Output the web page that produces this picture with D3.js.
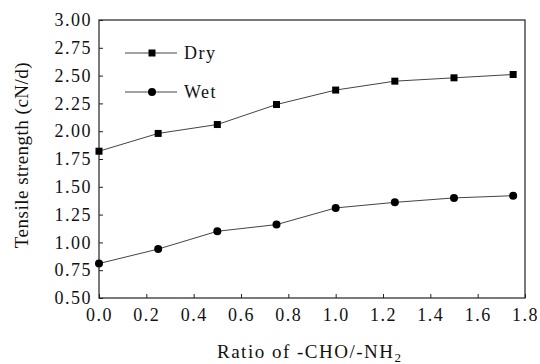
<!DOCTYPE html>
<html>
<head>
<meta charset="utf-8">
<script src="https://cdn.jsdelivr.net/npm/d3@7"></script>
<style>
  body { margin: 0; background: #fff; }
  svg { display: block; }
</style>
</head>
<body>
<div id="chart"></div>
<script>
// data
const ratios = [0, 0.25, 0.5, 0.75, 1.0, 1.25, 1.5, 1.75];
const dryValues = [1.82, 1.98, 2.06, 2.24, 2.37, 2.45, 2.48, 2.51];
const wetValues = [0.81, 0.94, 1.10, 1.16, 1.31, 1.36, 1.40, 1.42];
const xTicks = [0, 0.2, 0.4, 0.6, 0.8, 1.0, 1.2, 1.4, 1.6, 1.8];
const yTicks = [0.5, 0.75, 1.0, 1.25, 1.5, 1.75, 2.0, 2.25, 2.5, 2.75, 3.0];

const FONT = '"Liberation Serif", "Times New Roman", serif';
const width = 540, height = 364;
const margin = { top: 20, right: 15, bottom: 66, left: 99 };

const svg = d3.select('#chart').append('svg')
  .attr('width', width)
  .attr('height', height);

const x = d3.scaleLinear()
  .domain([0, 1.8])
  .range([margin.left, width - margin.right]);

const y = d3.scaleLinear()
  .domain([0.5, 3.0])
  .range([height - margin.bottom, margin.top]);

// frame
svg.append('rect')
  .attr('x', x(0))
  .attr('y', y(3))
  .attr('width', x(1.8) - x(0))
  .attr('height', y(0.5) - y(3))
  .attr('fill', 'none')
  .attr('stroke', '#222')
  .attr('stroke-width', 1.2);

const xAxis = d3.axisBottom(x)
  .tickValues(xTicks)
  .tickSize(-4)
  .tickPadding(10)
  .tickFormat(d3.format('.1f'));

const yAxis = d3.axisLeft(y)
  .tickValues(yTicks)
  .tickSize(-4)
  .tickPadding(7)
  .tickFormat(d3.format('.2f'));

const gx = svg.append('g')
  .attr('transform', `translate(0, ${y(0.5)})`)
  .call(xAxis);

const gy = svg.append('g')
  .attr('transform', `translate(${x(0)}, 0)`)
  .call(yAxis);

[gx, gy].forEach(g => {
  g.select('.domain').remove();
  g.selectAll('.tick line').attr('stroke', '#222');
  g.selectAll('.tick text')
    .style('font-family', FONT)
    .style('font-size', '18px')
    .style('letter-spacing', '1.5px')
    .attr('fill', '#111');
});
gx.selectAll('.tick text').attr('dy', '0.71em');

const line = d3.line()
  .x(d => x(d[0]))
  .y(d => y(d[1]));

const drySeries = ratios.map((r, i) => [r, dryValues[i]]);
const wetSeries = ratios.map((r, i) => [r, wetValues[i]]);

[drySeries, wetSeries].forEach(s => {
  svg.append('path')
    .datum(s)
    .attr('fill', 'none')
    .attr('stroke', '#444')
    .attr('stroke-width', 1)
    .attr('d', line);
});

svg.selectAll('rect.dry')
  .data(drySeries)
  .enter()
  .append('rect')
  .attr('class', 'dry')
  .attr('x', d => x(d[0]) - 3.5)
  .attr('y', d => y(d[1]) - 3.5)
  .attr('width', 7)
  .attr('height', 7)
  .attr('fill', '#000');

svg.selectAll('circle.wet')
  .data(wetSeries)
  .enter()
  .append('circle')
  .attr('class', 'wet')
  .attr('cx', d => x(d[0]))
  .attr('cy', d => y(d[1]))
  .attr('r', 4)
  .attr('fill', '#000');

// legend
const legend = [
  { name: 'Dry', shape: 'square', yPos: 53 },
  { name: 'Wet', shape: 'circle', yPos: 92 }
];
legend.forEach(l => {
  svg.append('line')
    .attr('x1', 125).attr('x2', 177)
    .attr('y1', l.yPos).attr('y2', l.yPos)
    .attr('stroke', '#444')
    .attr('stroke-width', 1);
  if (l.shape === 'square') {
    svg.append('rect')
      .attr('x', 152 - 3.5).attr('y', l.yPos - 3.5)
      .attr('width', 7).attr('height', 7)
      .attr('fill', '#000');
  } else {
    svg.append('circle')
      .attr('cx', 152).attr('cy', l.yPos).attr('r', 4)
      .attr('fill', '#000');
  }
  svg.append('text')
    .attr('x', 184)
    .attr('y', l.yPos + 6)
    .attr('fill', '#111')
    .style('font-family', FONT)
    .style('font-size', '18px')
    .style('letter-spacing', '1.5px')
    .text(l.name);
});

// axis titles
svg.append('text')
  .attr('transform', 'translate(28, 155) rotate(-90)')
  .attr('text-anchor', 'middle')
  .attr('fill', '#111')
  .style('font-family', FONT)
  .style('font-size', '19px')
  .style('letter-spacing', '0.5px')
  .text('Tensile strength (cN/d)');

const xt = svg.append('text')
  .attr('x', 217)
  .attr('y', 358)
  .attr('fill', '#111')
  .style('font-family', FONT)
  .style('font-size', '19px')
  .style('letter-spacing', '1.5px');
xt.append('tspan').text('Ratio of -CHO/-NH');
xt.append('tspan')
  .attr('dy', 4)
  .style('font-size', '13px')
  .text('2');
</script>
</body>
</html>
